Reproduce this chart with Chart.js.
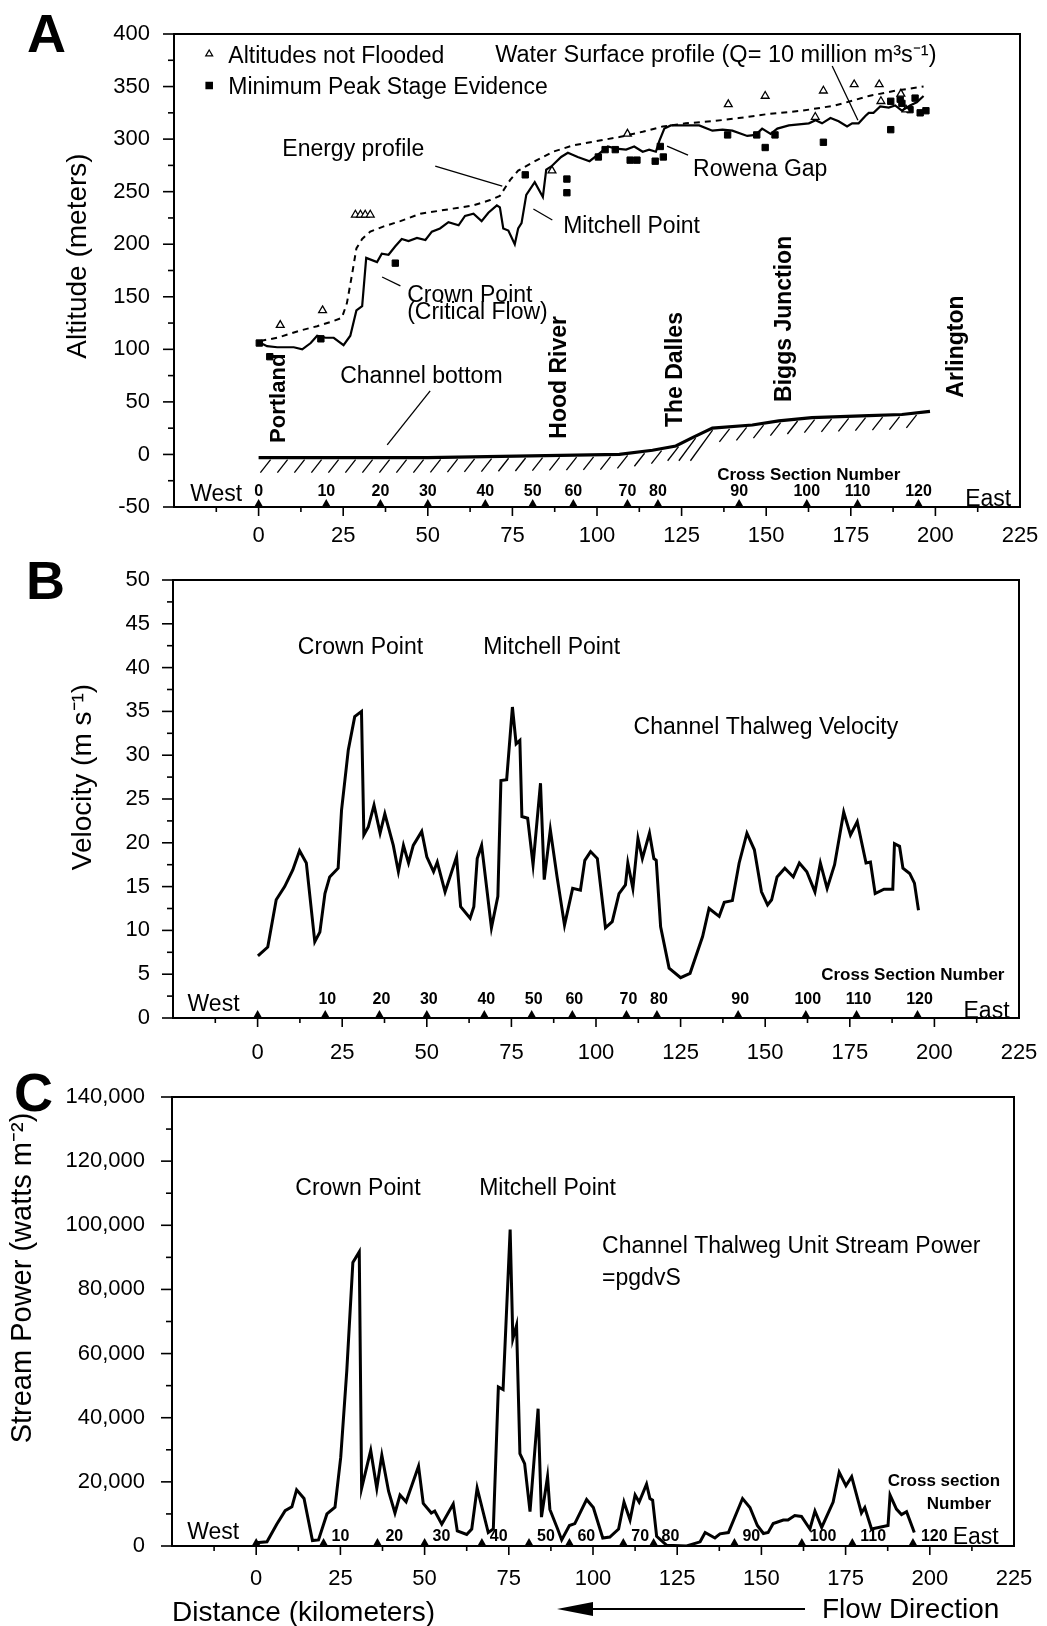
<!DOCTYPE html>
<html><head><meta charset="utf-8">
<script src="https://cdn.jsdelivr.net/npm/chart.js@4.4.1/dist/chart.umd.min.js"></script>
<style>
html,body{margin:0;padding:0;background:#fff;}
body{width:1047px;height:1626px;position:relative;overflow:hidden;}
canvas{position:absolute;left:0;top:0;}
</style></head><body>
<canvas id="cA" width="1047" height="1626"></canvas>
<canvas id="cB" width="1047" height="1626"></canvas>
<canvas id="cC" width="1047" height="1626"></canvas>
<script>
// ---------------- DATA ----------------
const distanceTicks = [0,25,50,75,100,125,150,175,200,225];
const crossSectionKm = [0,20,36,50,67,81,93,109,118,142,162,177,195];
const crossSectionLabels = ["0","10","20","30","40","50","60","70","80","90","100","110","120"];

// Panel A: altitude (m)
const waterKm = [0,2.5,5.5,10.4,12.9,15.4,17.3,19.8,22.2,25.1,27.1,28.9,30.6,31.8,35.0,36.4,38.4,40.4,42.3,44.3,46.8,49.3,51.2,53.6,56.1,59.1,61.0,63.5,65.9,67.9,70.4,71.3,72.3,73.8,75.7,76.7,77.7,79.1,81.6,84.0,85.0,86.5,89.4,91.4,94.3,97.8,100.2,103.2,105.6,108.6,111.0,113.5,115.4,117.4,118.4,119.9,121.8,130.2,134.1,137.1,140.0,144.4,146.9,148.8,151.3,153.3,156.7,162.6,164.6,166.5,169.0,171.4,173.9,175.4,177.3,179.3,180.3,181.7,183.7,186.2,188.1,190.1,192.5,194.5,196.5];
const waterAlt = [107,103,102,102,100,106,113,111,111,104,113,137,141,187,183,191,190,198,205,203,206,204,212,215,221,218,227,229,222,230,237,235,215,213,200,215,220,247,259,245,271,274,283,287,283,279,285,293,291,290,293,288,290,288,298,310,313,313,308,309,308,303,304,310,305,310,313,315,318,315,320,317,312,315,315,322,325,325,331,330,332,327,332,335,341];
const energyKm = [0.5,5.5,12.4,17.3,22.2,24.6,26.1,27.6,28.9,30.6,33.0,37.0,41.9,47.8,53.7,59.6,63.5,68.4,71.3,74.3,76.7,81.1,87.0,92.9,99.7,106.6,113.5,119.4,126.2,134.1,141.9,150.8,160.6,170.4,180.3,188.1,196.5];
const energyAlt = [108,111,118,122,127,130,144,171,196,205,212,217,222,229,232,235,237,242,246,261,270,278,288,294,298,302,307,312,315,317,320,324,327,332,341,346,350];
const channelKm = [0,50,106.6,116.4,123.3,128.2,134.1,145.9,153.7,163.5,180.3,190.1,198.4];
const channelAlt = [-3,-3,0,4,8,16,25,28,32,35,37,38,41];
const notFloodedKm = [6.4,18.9,28.6,30.1,31.5,33.0,86.7,109.0,138.8,149.7,164.5,166.9,176.0,183.4,183.9,189.8,191.3];
const notFloodedAlt = [123,137,228,228,228,228,270,305,333,341,321,346,352,352,336,343,328];
const peakStageKm = [0.2,3.3,18.4,40.4,78.8,91.1,91.1,100.4,102.4,105.4,109.8,111.8,117.2,118.7,119.6,138.6,147.2,149.7,152.6,166.9,186.8,186.8,189.6,190.1,192.5,194.0,195.5,197.2];
const peakStageAlt = [106,93,110,182,266,262,249,283,290,290,280,280,279,293,283,304,304,292,304,297,336,309,338,334,328,339,325,327];

// Panel B: velocity (m/s)
const velocityKm = [0.1,3.0,5.5,8.0,10.4,12.4,14.4,16.9,18.4,19.9,21.3,23.8,24.8,26.8,28.7,30.7,31.4,32.7,34.4,36.2,37.6,40.1,41.6,43.1,44.6,46.0,48.5,50.0,52.0,53.1,55.4,58.8,60.0,62.8,63.9,64.9,66.2,69.1,71.0,71.9,73.6,75.3,76.4,77.5,78.1,79.8,81.4,83.6,84.7,86.5,88.5,90.7,93.1,95.4,96.7,98.4,100.4,102.8,104.8,106.8,108.7,109.4,110.9,112.4,113.7,115.8,117.1,117.8,119.1,121.6,125.0,127.8,131.5,133.4,136.4,137.9,140.3,142.3,144.6,146.8,148.9,150.7,151.9,153.5,155.8,158.3,160.1,162.3,164.7,166.3,168.3,170.5,173.2,175.2,177.2,179.8,181.1,182.5,185.1,187.7,188.2,189.7,190.7,192.7,194.1,195.3];
const velocityVal = [7.1,8.1,13.5,15.0,16.9,19.1,17.7,8.7,9.8,14.2,16.1,17.1,23.7,30.6,34.4,35.0,20.9,21.8,24.3,21.1,23.3,19.7,16.7,19.7,17.7,19.7,21.3,18.4,16.7,17.8,14.4,18.4,12.7,11.4,12.7,18.2,19.7,10.3,13.9,27.1,27.2,35.5,31.3,31.7,23.0,22.8,17.5,26.8,15.8,21.5,16.1,10.6,14.8,14.6,18.0,19.0,18.2,10.3,11.0,14.2,15.2,17.7,14.8,20.5,18.2,21.1,18.2,18.0,10.4,5.7,4.6,5.1,9.3,12.5,11.6,13.2,13.4,17.7,21.1,19.2,14.4,12.9,13.5,16.1,17.1,16.1,17.7,16.7,14.4,17.7,14.8,17.5,23.5,20.9,22.4,17.7,17.8,14.2,14.7,14.7,19.9,19.6,17.1,16.5,15.4,12.3];

// Panel C: unit stream power (W/m2)
const powerKm = [0,3.2,6.1,8.6,10.6,12.0,14.2,16.7,18.5,21.0,23.4,25.1,26.9,28.7,30.6,31.3,34.0,35.8,37.3,39.3,41.2,42.7,44.5,48.2,49.6,52.0,53.0,55.1,58.5,59.7,62.5,64.0,65.6,68.9,70.4,71.9,73.3,75.4,76.2,77.3,78.3,79.7,81.3,83.7,84.7,86.5,87.2,89.5,90.7,93.0,94.6,98.1,100.1,102.9,105.0,107.6,109.2,111.0,112.5,113.7,115.9,116.9,117.7,118.9,121.9,127.8,131.8,133.3,136.2,137.7,140.2,144.4,146.6,148.8,150.6,152.0,153.5,156.5,157.9,159.9,161.9,164.4,165.9,167.9,171.3,173.1,175.1,176.8,179.7,180.7,182.7,187.6,188.2,190.1,191.6,193.1,195.4];
const powerVal = [1000,1300,6800,11000,12200,17500,14800,1700,1900,10000,12100,27700,54700,88400,91700,18000,29800,18000,28300,17100,10300,15900,13800,24900,13300,10300,10900,6800,13100,4700,3600,5300,18100,4200,5300,49600,48800,98700,64600,68800,28800,25700,10700,42800,9000,21600,11400,5300,1900,6400,7000,14500,12000,2500,2800,5300,13700,8100,15900,13700,19300,14800,14300,3000,200,0,1300,4200,2500,3800,4200,14800,12000,6400,3900,4200,7000,8100,8100,9500,9200,5300,10900,5800,13700,23000,18800,21600,10300,12000,5300,6400,15900,11500,9800,10700,4200];

// ---------------- HELPERS ----------------
const FONT = "'Liberation Sans', Arial, Helvetica, sans-serif";
Chart.defaults.font.family = FONT;
Chart.defaults.color = '#000';
const pts = (xs, ys) => xs.map((x, i) => ({x: x, y: ys[i]}));
const fmtComma = v => String(v).replace(/\B(?=(\d{3})+(?!\d))/g, ',');

function txt(ctx, s, x, y, size, o) {
  o = o || {};
  ctx.save();
  ctx.font = (o.bold ? 'bold ' : '') + size + 'px ' + FONT;
  ctx.fillStyle = '#000';
  ctx.textAlign = o.align || 'left';
  ctx.textBaseline = 'middle';
  if (o.rot) { ctx.translate(x, y); ctx.rotate(-Math.PI / 2); ctx.fillText(s, 0, 0); }
  else ctx.fillText(s, x, y);
  ctx.restore();
}
function P(c, xv, yv) { return [c.scales.x.getPixelForValue(xv), c.scales.y.getPixelForValue(yv)]; }
function dtxt(c, s, xv, yv, size, o) { const p = P(c, xv, yv); txt(c.ctx, s, p[0], p[1], size, o); }
function dline(c, x1, y1, x2, y2, w) {
  const a = P(c, x1, y1), b = P(c, x2, y2), ctx = c.ctx;
  ctx.save(); ctx.strokeStyle = '#000'; ctx.lineWidth = w || 1.3;
  ctx.beginPath(); ctx.moveTo(a[0], a[1]); ctx.lineTo(b[0], b[1]); ctx.stroke(); ctx.restore();
}

function frameTicks(c, o) {
  const ctx = c.ctx, a = c.chartArea, x = c.scales.x, y = c.scales.y;
  ctx.save(); ctx.strokeStyle = '#000';
  ctx.lineWidth = 2;
  ctx.strokeRect(a.left, a.top, a.right - a.left, a.bottom - a.top);
  ctx.lineWidth = 1.6;
  for (let v = o.yMin; v <= o.yMax + 1e-6; v += o.yMinor) {
    const py = y.getPixelForValue(v);
    const r = v / o.yStep, major = Math.abs(r - Math.round(r)) < 1e-6;
    const len = major ? 11 : 6;
    ctx.beginPath(); ctx.moveTo(a.left - len, py); ctx.lineTo(a.left, py); ctx.stroke();
  }
  for (let v = -12.5; v < 225; v += 12.5) {
    const px = x.getPixelForValue(v);
    const len = (v % 25 === 0) ? 9 : 5;
    ctx.beginPath(); ctx.moveTo(px, a.bottom); ctx.lineTo(px, a.bottom + len); ctx.stroke();
  }
  ctx.restore();
}

function crossMarks(c, mode, labelY) {
  const ctx = c.ctx, a = c.chartArea, x = c.scales.x, y = c.scales.y;
  ctx.save(); ctx.fillStyle = '#000';
  crossSectionKm.forEach((k, i) => {
    const px = x.getPixelForValue(k);
    ctx.beginPath(); ctx.moveTo(px - 4.5, a.bottom); ctx.lineTo(px + 4.5, a.bottom); ctx.lineTo(px, a.bottom - 8); ctx.closePath(); ctx.fill();
    const py = y.getPixelForValue(labelY);
    if (mode === 'A') txt(ctx, crossSectionLabels[i], px, py, 16, {bold: true, align: 'center'});
    else if (mode === 'B') { if (i > 0) txt(ctx, crossSectionLabels[i], px + 2, py, 16, {bold: true, align: 'center'}); }
    else { if (i > 0) txt(ctx, crossSectionLabels[i], px + 8, py, 16, {bold: true}); }
  });
  ctx.restore();
}

const XH = 60;
const zeroPad = s => { s.paddingLeft = 0; s.paddingRight = 0; s.paddingTop = 0; s.paddingBottom = 0; };
function scalesFor(o) {
  return {
    x: { type: 'linear', min: -25, max: 225,
      ticks: { stepSize: 25, autoSkip: false, maxRotation: 0, minRotation: 0, padding: o.xPad, color: '#000',
        font: {family: FONT, size: 22}, callback: v => (distanceTicks.indexOf(v) >= 0 ? String(v) : '') },
      grid: { display: false, drawTicks: false }, border: { display: false },
      afterFit: s => { s.height = XH; zeroPad(s); } },
    y: { type: 'linear', min: o.yMin, max: o.yMax,
      ticks: { stepSize: o.yStep, padding: o.yPad, color: '#000', font: {family: FONT, size: 22}, callback: o.yFmt },
      grid: { display: false, drawTicks: false }, border: { display: false },
      afterFit: s => { s.width = o.yWidth; zeroPad(s); } }
  };
}
const lineDs = (data, w, dash) => ({ data: data, borderColor: '#000', borderWidth: w, borderDash: dash || [],
  pointRadius: 0, tension: 0, fill: false });
const H = 1626, W = 1047;
function padFor(left, top, right, bottom) {
  return { left: 0, top: top, right: W - right, bottom: H - bottom - XH };
}

// ---------------- PANEL A ----------------
const optA = { yMin: -50, yMax: 400, yStep: 50, yMinor: 25, yPad: 24, xPad: 16, yWidth: 174, yFmt: v => String(v) };
new Chart(document.getElementById('cA'), {
  type: 'line',
  data: { datasets: [
    lineDs(pts(waterKm, waterAlt), 2.2),
    lineDs(pts(energyKm, energyAlt), 2, [6, 5]),
    lineDs(pts(channelKm, channelAlt), 3.2),
    { data: pts(notFloodedKm, notFloodedAlt), showLine: false, pointStyle: 'triangle', pointRadius: 4.5,
      pointBackgroundColor: '#fff', pointBorderColor: '#000', pointBorderWidth: 1.3 },
    { data: pts(peakStageKm, peakStageAlt), showLine: false, pointStyle: 'rect', pointRadius: 4.5,
      pointBackgroundColor: '#000', pointBorderColor: '#000', pointBorderWidth: 1 }
  ]},
  options: {
    responsive: false, animation: false, devicePixelRatio: 1,
    layout: { padding: padFor(174, 34, 1020, 507) },
    plugins: { legend: { display: false }, tooltip: { enabled: false } },
    scales: scalesFor(optA)
  },
  plugins: [{
    id: 'decoA',
    afterDatasetsDraw(c) {
      const ctx = c.ctx, meta = c.getDatasetMeta(2), pp = meta.data.map(e => ({x: e.x, y: e.y}));
      const yAt = px => { for (let i = 1; i < pp.length; i++) { if (px <= pp[i].x) { const t = (px - pp[i-1].x) / (pp[i].x - pp[i-1].x); return pp[i-1].y + t * (pp[i].y - pp[i-1].y); } } return pp[pp.length-1].y; };
      ctx.save(); ctx.strokeStyle = '#000'; ctx.lineWidth = 1.3;
      for (let px = pp[0].x + 12; px < pp[pp.length-1].x - 6; px += 17) {
        const py = yAt(px); let by = py + 15;
        const km = c.scales.x.getValueForPixel(px);
        if (km > 120 && km < 138) by = Math.max(by, c.scales.y.getPixelForValue(-6));
        const len = by - py;
        ctx.beginPath(); ctx.moveTo(px, py + 2); ctx.lineTo(px - len * 0.68, by); ctx.stroke();
      }
      ctx.restore();
    },
    afterDraw(c) {
      const ctx = c.ctx;
      frameTicks(c, optA);
      crossMarks(c, 'A', -35.5);
      const lt = P(c, -14.6, 381), ls = P(c, -14.6, 351);
      ctx.save(); ctx.fillStyle = '#fff'; ctx.strokeStyle = '#000'; ctx.lineWidth = 1.2;
      Chart.helpers.drawPoint(ctx, {pointStyle: 'triangle', radius: 4, borderWidth: 1.2}, lt[0], lt[1]);
      ctx.fillStyle = '#000';
      Chart.helpers.drawPoint(ctx, {pointStyle: 'rect', radius: 4.5, borderWidth: 1}, ls[0], ls[1]);
      ctx.restore();
      dtxt(c, 'Altitudes not Flooded', -8.95, 378, 23);
      dtxt(c, 'Minimum Peak Stage Evidence', -8.95, 349, 23);
      dtxt(c, 'Water Surface profile (Q= 10 million m\u00B3s\u207B\u00B9)', 69.9, 380, 23.5);
      dline(c, 169.5, 369.5, 177.1, 318);
      dtxt(c, 'Energy profile', 7.0, 289.6, 23);
      dline(c, 52.2, 274.3, 72.0, 255.2);
      dtxt(c, 'Crown Point', 43.9, 151.5, 23);
      dtxt(c, '(Critical Flow)', 43.9, 134.5, 23);
      dline(c, 36.5, 168.8, 41.9, 160.3);
      dtxt(c, 'Mitchell Point', 90.0, 216.4, 23);
      dline(c, 81.2, 233.5, 86.8, 223.1);
      dtxt(c, 'Rowena Gap', 128.4, 270.6, 23);
      dline(c, 120.7, 293.3, 126.9, 284.8);
      dtxt(c, 'Channel bottom', 24.1, 73.8, 23);
      dline(c, 50.7, 60.5, 38.0, 9.1);
      dtxt(c, 'West', -20.2, -38.4, 23);
      dtxt(c, 'East', 208.8, -43.2, 23);
      dtxt(c, 'Cross Section Number', 135.5, -19.4, 17, {bold: true});
      dtxt(c, 'Portland', 6.1, 11, 22, {bold: true, rot: true});
      dtxt(c, 'Hood River', 89.1, 15, 23, {bold: true, rot: true});
      dtxt(c, 'The Dalles', 123.1, 26, 23, {bold: true, rot: true});
      dtxt(c, 'Biggs Junction', 155.6, 50, 23, {bold: true, rot: true});
      dtxt(c, 'Arlington', 206.4, 54, 23, {bold: true, rot: true});
      txt(ctx, 'Altitude (meters)', 78, 256, 28, {rot: true, align: 'center'});
      txt(ctx, 'A', 27, 37, 54, {bold: true});
    }
  }]
});

// ---------------- PANEL B ----------------
const optB = { yMin: 0, yMax: 50, yStep: 5, yMinor: 2.5, yPad: 23, xPad: 22, yWidth: 173, yFmt: v => String(v) };
new Chart(document.getElementById('cB'), {
  type: 'line',
  data: { datasets: [ lineDs(pts(velocityKm, velocityVal), 3) ] },
  options: {
    responsive: false, animation: false, devicePixelRatio: 1,
    layout: { padding: padFor(173, 580, 1019, 1018) },
    plugins: { legend: { display: false }, tooltip: { enabled: false } },
    scales: scalesFor(optB)
  },
  plugins: [{
    id: 'decoB',
    afterDraw(c) {
      const ctx = c.ctx;
      frameTicks(c, optB);
      crossMarks(c, 'B', 2.05);
      dtxt(c, 'Crown Point', 11.9, 42.3, 23);
      dtxt(c, 'Mitchell Point', 66.7, 42.3, 23);
      dtxt(c, 'Channel Thalweg Velocity', 111.1, 33.1, 23);
      dtxt(c, 'West', -20.7, 1.5, 23);
      dtxt(c, 'East', 208.6, 0.7, 23);
      dtxt(c, 'Cross Section Number', 220.7, 4.9, 17, {bold: true, align: 'right'});
      txt(ctx, 'Velocity (m s\u207B\u00B9)', 83, 777, 28, {rot: true, align: 'center'});
      txt(ctx, 'B', 26, 584, 54, {bold: true});
    }
  }]
});

// ---------------- PANEL C ----------------
const optC = { yMin: 0, yMax: 140000, yStep: 20000, yMinor: 10000, yPad: 27, xPad: 20, yWidth: 172, yFmt: v => fmtComma(v) };
new Chart(document.getElementById('cC'), {
  type: 'line',
  data: { datasets: [ lineDs(pts(powerKm, powerVal), 3) ] },
  options: {
    responsive: false, animation: false, devicePixelRatio: 1,
    layout: { padding: padFor(172, 1097, 1014, 1546) },
    plugins: { legend: { display: false }, tooltip: { enabled: false } },
    scales: scalesFor(optC)
  },
  plugins: [{
    id: 'decoC',
    afterDraw(c) {
      const ctx = c.ctx;
      frameTicks(c, optC);
      crossMarks(c, 'C', 2955);
      dtxt(c, 'Crown Point', 11.6, 111378, 23);
      dtxt(c, 'Mitchell Point', 66.2, 111378, 23);
      dtxt(c, 'Channel Thalweg Unit Stream Power', 102.7, 93333, 23);
      dtxt(c, '=pgdvS', 102.7, 83378, 23);
      dtxt(c, 'West', -20.5, 4044, 23);
      dtxt(c, 'Cross section', 187.5, 20222, 17, {bold: true});
      dtxt(c, 'Number', 199.1, 13067, 17, {bold: true});
      dtxt(c, 'East', 206.8, 2489, 23);
      txt(ctx, 'Stream Power (watts m\u207B\u00B2)', 23, 1278, 29, {rot: true, align: 'center'});
      txt(ctx, 'C', 14, 1096, 54, {bold: true});
      txt(ctx, 'Distance (kilometers)', 172, 1613, 28);
      txt(ctx, 'Flow Direction', 822, 1610, 28);
      ctx.save(); ctx.strokeStyle = '#000'; ctx.fillStyle = '#000'; ctx.lineWidth = 2;
      ctx.beginPath(); ctx.moveTo(590, 1609); ctx.lineTo(805, 1609); ctx.stroke();
      ctx.beginPath(); ctx.moveTo(557, 1609); ctx.lineTo(593, 1602); ctx.lineTo(593, 1616); ctx.closePath(); ctx.fill();
      ctx.restore();
    }
  }]
});
</script>
</body></html>
